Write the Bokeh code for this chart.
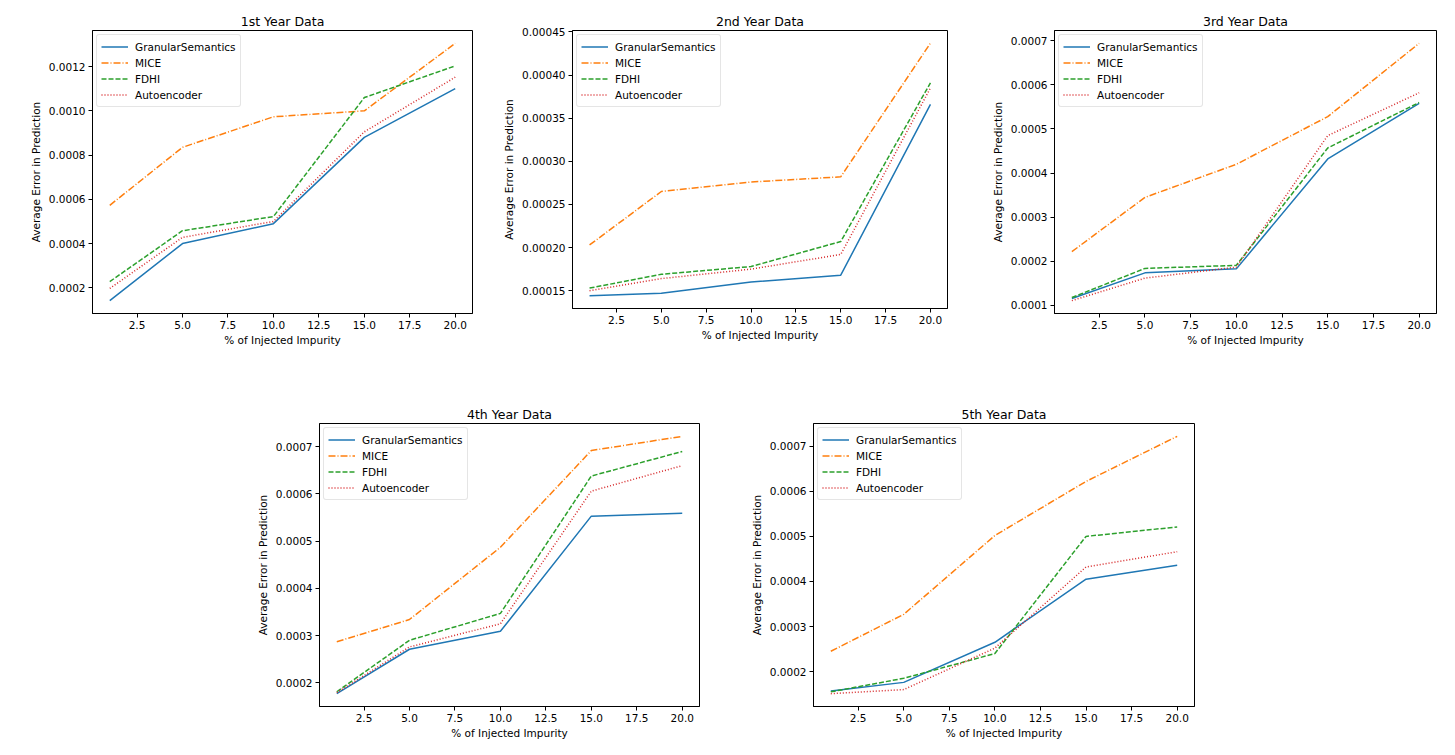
from bokeh.plotting import figure
from bokeh.layouts import row, column, Spacer
from bokeh.models import FixedTicker, PrintfTickFormatter, Range1d
from bokeh.embed import file_html
from bokeh.resources import INLINE

impurity = [1, 5, 10, 15, 20]
methods = ["GranularSemantics", "MICE", "FDHI", "Autoencoder"]
titles = ["1st Year Data", "2nd Year Data", "3rd Year Data", "4th Year Data", "5th Year Data"]

# 1st year
y1_gs = [0.000142, 0.000400, 0.000490, 0.000880, 0.001100]
y1_mice = [0.000573, 0.000835, 0.000973, 0.001000, 0.001305]
y1_fdhi = [0.000228, 0.000458, 0.000522, 0.001060, 0.001203]
y1_ae = [0.000197, 0.000428, 0.000500, 0.000905, 0.001152]
# 2nd year
y2_gs = [0.000144, 0.000147, 0.000160, 0.000168, 0.000366]
y2_mice = [0.000203, 0.000265, 0.000276, 0.000282, 0.000437]
y2_fdhi = [0.000153, 0.000169, 0.000178, 0.000207, 0.000391]
y2_ae = [0.000150, 0.000164, 0.000175, 0.000192, 0.000385]
# 3rd year
y3_gs = [0.000116, 0.000174, 0.000183, 0.000432, 0.000558]
y3_mice = [0.000222, 0.000345, 0.000420, 0.000528, 0.000694]
y3_fdhi = [0.000118, 0.000184, 0.000191, 0.000457, 0.000560]
y3_ae = [0.000111, 0.000162, 0.000187, 0.000485, 0.000582]
# 4th year
y4_gs = [0.000177, 0.000271, 0.000309, 0.000553, 0.000559]
y4_mice = [0.000287, 0.000334, 0.000487, 0.000692, 0.000722]
y4_fdhi = [0.000181, 0.000290, 0.000347, 0.000638, 0.000690]
y4_ae = [0.000179, 0.000276, 0.000325, 0.000606, 0.000660]
# 5th year
y5_gs = [0.000157, 0.000176, 0.000265, 0.000405, 0.000436]
y5_mice = [0.000245, 0.000327, 0.000502, 0.000622, 0.000722]
y5_fdhi = [0.000155, 0.000185, 0.000240, 0.000500, 0.000521]
y5_ae = [0.000151, 0.000160, 0.000252, 0.000432, 0.000466]

x_ticks = [2.5, 5.0, 7.5, 10.0, 12.5, 15.0, 17.5, 20.0]
y_ticks_1 = [0.0002, 0.0004, 0.0006, 0.0008, 0.0010, 0.0012]
y_ticks_2 = [0.00015, 0.00020, 0.00025, 0.00030, 0.00035, 0.00040, 0.00045]
y_ticks_3 = [0.0001, 0.0002, 0.0003, 0.0004, 0.0005, 0.0006, 0.0007]
y_ticks_4 = [0.0002, 0.0003, 0.0004, 0.0005, 0.0006, 0.0007]
y_ticks_5 = [0.0002, 0.0003, 0.0004, 0.0005, 0.0006, 0.0007]

colors = ["#1f77b4", "#ff7f0e", "#2ca02c", "#d62728"]
dashes = ["solid", "7 2 1 2", "5 2", "1 2"]
FONT = "DejaVu Sans"


def make_fig(title, series, yticks, yfmt, fw, fh, bl, br, bt, bb):
    ally = [v for s in series for v in s]
    lo, hi = min(ally), max(ally)
    pad = 0.05 * (hi - lo)
    xpad = 0.05 * (max(impurity) - min(impurity))
    p = figure(frame_width=fw, frame_height=fh,
               min_border_left=bl, min_border_right=br,
               min_border_top=bt, min_border_bottom=bb,
               x_range=Range1d(min(impurity) - xpad, max(impurity) + xpad),
               y_range=Range1d(lo - pad, hi + pad),
               output_backend="svg", toolbar_location=None, title=title)
    for name, ys, c, d in zip(methods, series, colors, dashes):
        p.line(impurity, ys, line_color=c, line_width=1.5, line_dash=d,
               legend_label=name)
    p.title.align = "center"
    p.title.text_font = FONT
    p.title.text_font_size = "12.5px"
    p.title.text_font_style = "normal"
    p.title.text_color = "black"
    p.title.standoff = 4
    p.grid.visible = False
    p.outline_line_color = "black"
    p.outline_line_alpha = 1
    p.outline_line_width = 1
    p.xaxis.ticker = FixedTicker(ticks=x_ticks)
    p.xaxis.formatter = PrintfTickFormatter(format="%.1f")
    p.yaxis.ticker = FixedTicker(ticks=yticks)
    p.yaxis.formatter = PrintfTickFormatter(format=yfmt)
    p.xaxis.axis_label = "% of Injected Impurity"
    p.yaxis.axis_label = "Average Error in Prediction"
    for ax in (p.xaxis[0], p.yaxis[0]):
        ax.axis_label_text_font = FONT
        ax.axis_label_text_font_size = "10.5px"
        ax.axis_label_text_font_style = "normal"
        ax.axis_label_text_color = "black"
        ax.axis_label_standoff = 4
        ax.major_label_text_font = FONT
        ax.major_label_text_font_size = "10.5px"
        ax.major_label_text_color = "black"
        ax.major_label_standoff = 3
        ax.major_tick_in = 0
        ax.major_tick_out = 4
        ax.minor_tick_in = 0
        ax.minor_tick_out = 0
        ax.axis_line_color = "black"
        ax.major_tick_line_color = "black"
    p.xaxis[0].axis_label_standoff = 2
    lg = p.legend[0]
    lg.location = "top_left"
    lg.margin = 4
    lg.padding = 4
    lg.spacing = 1
    lg.glyph_width = 27
    lg.glyph_height = 15
    lg.label_height = 15
    lg.label_standoff = 7
    lg.label_text_font = FONT
    lg.label_text_font_size = "10.5px"
    lg.label_text_color = "black"
    lg.border_line_color = "#cccccc"
    lg.border_line_width = 1
    lg.background_fill_color = "white"
    lg.background_fill_alpha = 0.8
    if "border_radius" in lg.properties():
        lg.border_radius = 3
    return p


p1 = make_fig(titles[0], [y1_gs, y1_mice, y1_fdhi, y1_ae], y_ticks_1, "%.4f", 380, 283, 92, 15, 28, 89)
p2 = make_fig(titles[1], [y2_gs, y2_mice, y2_fdhi, y2_ae], y_ticks_2, "%.5f", 375, 278, 85, 22, 30, 92)
p3 = make_fig(titles[2], [y3_gs, y3_mice, y3_fdhi, y3_ae], y_ticks_3, "%.4f", 382, 283, 85, 10, 25, 92)
p4 = make_fig(titles[3], [y4_gs, y4_mice, y4_fdhi, y4_ae], y_ticks_4, "%.4f", 380, 283, 85, 29, 23, 40)
p5 = make_fig(titles[4], [y5_gs, y5_mice, y5_fdhi, y5_ae], y_ticks_5, "%.4f", 381, 283, 85, 15, 23, 40)

layout = column(row(p1, p2, p3, spacing=0),
                row(Spacer(width=234, height=10), p4, p5, spacing=0),
                spacing=0)

open("out.html", "w").write(file_html(layout, INLINE))
